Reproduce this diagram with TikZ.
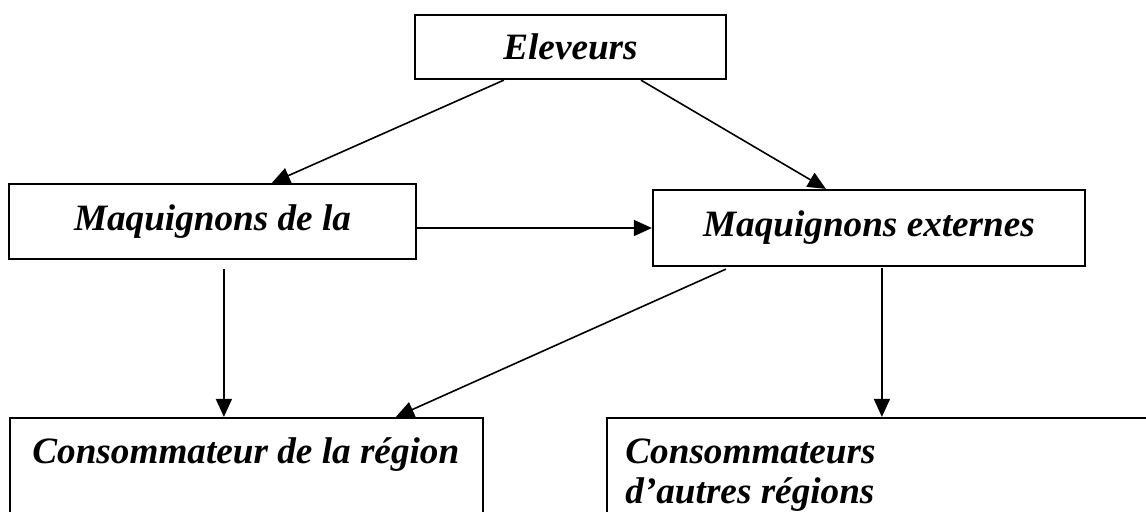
\documentclass[tikz,border=0pt]{standalone}
\usepackage{fontspec}
\setmainfont{Liberation Serif}
\usetikzlibrary{arrows.meta,calc}

\begin{document}
\begin{tikzpicture}[x=0.5pt,y=-0.5pt,
  box/.style={draw,line width=1.1pt,inner sep=0pt,
    font=\fontsize{18.6}{20}\selectfont\bfseries\itshape},
  lbl/.style={inner sep=0pt,align=left,
    font=\fontsize{18.6}{20}\selectfont\bfseries\itshape},
  arr/.style={-{Triangle[length=9pt,width=8pt]},line width=0.8pt}]
  \clip (0,0) rectangle (1146,511);
  \node[box,minimum width=155.5pt,minimum height=32pt] (elev) at (570.5,47) {Eleveurs};
  \node[box,minimum width=203.5pt,minimum height=37.5pt] (maqla) at (212.5,221.5) {Maquignons de la};
  \node[box,minimum width=216pt,minimum height=38pt] (maqext) at (869,228) {Maquignons externes};
  \node[box,minimum width=236.5pt,minimum height=71pt] (consreg) at (246.5,489) {};
  \node[box,minimum width=281.5pt,minimum height=71pt] (consautr) at (888.5,489) {};
  \node[lbl,anchor=base west] (consregtxt) at (32,463) {Consommateur de la région};
  \node[lbl,anchor=base west] (consautrtxt) at (625,503) {Consommateurs\\d’autres régions};
  \draw[arr] ($(elev.south west)+(90,0)$) -- ($(maqla.north west)+(264,0)$);
  \draw[arr] ($(elev.south west)+(227,0)$) -- ($(maqext.north west)+(174,0)$);
  \draw[arr] (maqla.east |- maqext.west) -- (maqext.west);
  \draw[arr] ($(maqla.south west)+(216,9)$) -- ($(consreg.north west)+(215,0)$);
  \draw[arr] ($(maqext.south west)+(74,2)$) -- ($(consreg.north west)+(387,0)$);
  \draw[arr] ($(maqext.south west)+(230,1)$) -- ($(consautr.north west)+(276,0)$);
\end{tikzpicture}
\end{document}
